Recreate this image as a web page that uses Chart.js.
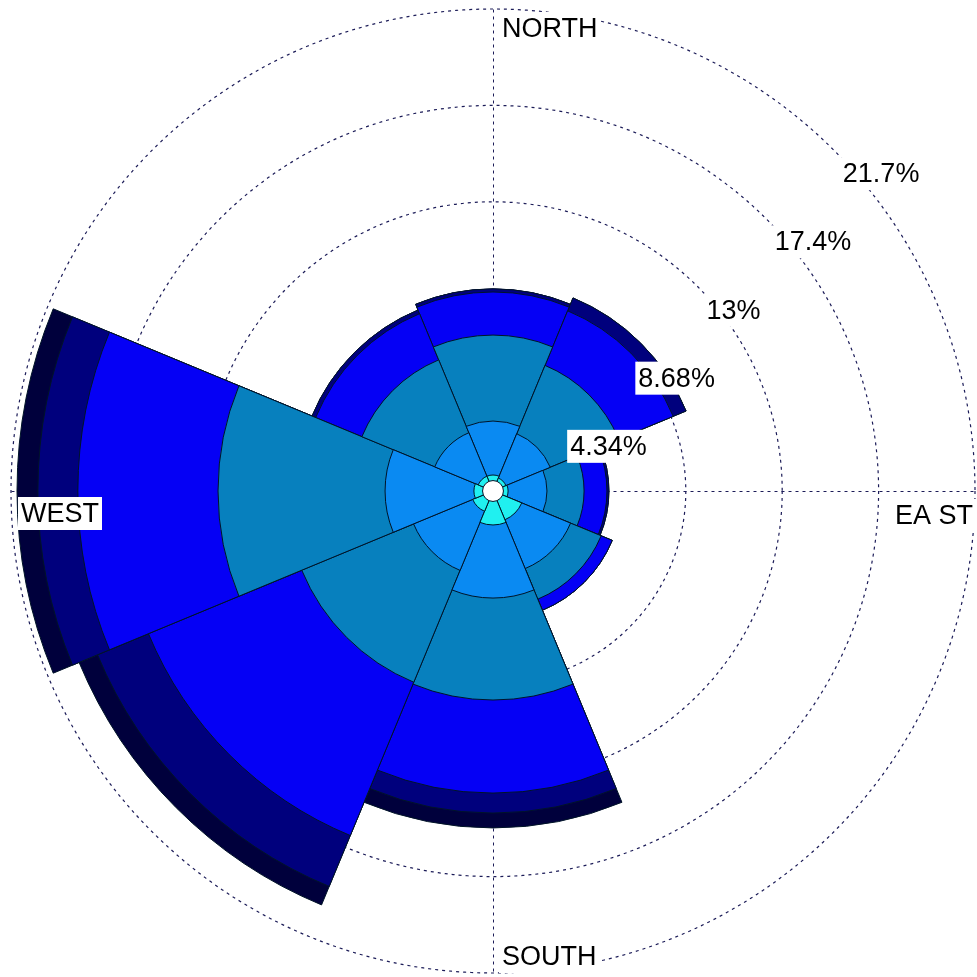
<!DOCTYPE html>
<html>
<head>
<meta charset="utf-8">
<title>Wind rose</title>
<script src="https://cdn.jsdelivr.net/npm/chart.js@4.4.0/dist/chart.umd.min.js"></script>
<style>
  body { margin: 0; background: #fff; }
  #wrap { width: 977px; height: 977px; }
</style>
</head>
<body>
<div id="wrap"><canvas id="windRose"></canvas></div>
<script>
// sectors, clockwise from north
const directions = ["N", "NE", "E", "SE", "S", "SW", "W", "NW"];

// frequency (%) of each speed class per sector, lightest class first
const speed1 = [0.72, 0.63, 0.68, 1.40, 1.53, 0.99, 0.86, 0.72];
const speed2 = [2.43, 2.16, 1.75, 2.38, 3.29, 2.88, 4.00, 2.12];
const speed3 = [3.87, 3.33, 1.67, 1.49, 4.59, 5.45, 7.52, 3.55];
const speed4 = [1.94, 2.66, 1.03, 0.54, 4.19, 7.47, 6.31, 2.25];
const speed5 = [0.14, 0.63, 0.09, 0.00, 0.90, 2.48, 1.80, 0.18];
const speed6 = [0.00, 0.00, 0.00, 0.00, 0.67, 0.90, 0.94, 0.00];
const calm = 0.47;

const tickValues = [4.34, 8.68, 13.02, 17.36, 21.7];
const tickLabels = ["4.34%", "8.68%", "13%", "17.4%", "21.7%"];
const compassLabels = ["NORTH", "EA ST", "SOUTH", "WEST"];

const classColors = ["#20F0F0", "#0A8AF2", "#0780BE", "#0500F5", "#00007D", "#00003C"];
const gridColor = "#1c1c58";
const labelFont = '27px "Liberation Sans", Arial, sans-serif';

// stack the classes: every dataset is drawn from the centre out to its cumulative value
const classes = [speed1, speed2, speed3, speed4, speed5, speed6];
const running = directions.map(() => 0);
const datasets = classes.map((vals, k) => {
  vals.forEach((v, i) => { running[i] += v; });
  return {
    label: "class " + (k + 1),
    data: running.map(v => +v.toFixed(2)),
    backgroundColor: classColors[k],
    borderColor: "#001428",
    borderWidth: 1
  };
});

function boxedText(ctx, text, x, y) {
  const w = ctx.measureText(text).width;
  ctx.fillStyle = "#fff";
  ctx.fillRect(x - 3, y - 25, w + 6, 33);
  ctx.fillStyle = "#000";
  ctx.fillText(text, x, y);
}

const roseDecor = {
  id: "roseDecor",
  beforeDatasetsDraw(chart) {
    const s = chart.scales.r, ctx = chart.ctx;
    const R = s.drawingArea;
    const xc = s.xCenter + 0.5, yc = s.yCenter + 0.5;
    ctx.save();
    ctx.strokeStyle = gridColor;
    ctx.lineWidth = 1;
    ctx.setLineDash([3, 4]);
    ctx.beginPath();
    ctx.moveTo(xc, yc - R); ctx.lineTo(xc, yc + R);
    ctx.moveTo(xc - R, yc); ctx.lineTo(xc + R, yc);
    ctx.stroke();
    ctx.restore();
  },
  afterDatasetsDraw(chart) {
    const s = chart.scales.r, ctx = chart.ctx;
    const R = s.drawingArea;
    const xc = s.xCenter, yc = s.yCenter;
    ctx.save();

    // calm circle
    ctx.beginPath();
    ctx.arc(xc, yc, s.getDistanceFromCenterForValue(calm), 0, Math.PI * 2);
    ctx.fillStyle = "#fff";
    ctx.fill();
    ctx.strokeStyle = "#001428";
    ctx.lineWidth = 1;
    ctx.stroke();

    ctx.font = labelFont;
    ctx.textBaseline = "alphabetic";
    ctx.textAlign = "left";

    // ring labels along the 45 degree diagonal
    tickValues.forEach((v, i) => {
      const d = s.getDistanceFromCenterForValue(v) * Math.SQRT1_2;
      boxedText(ctx, tickLabels[i], xc + d + 9, yc - d + 32);
    });

    // compass labels
    boxedText(ctx, compassLabels[0], xc + 9, yc - R + 28);
    boxedText(ctx, compassLabels[1], xc + R - 80, yc + 33);
    boxedText(ctx, compassLabels[2], xc + 9, yc + R - 8);
    boxedText(ctx, compassLabels[3], xc - R + 10, yc + 31);
    ctx.restore();
  }
};

new Chart(document.getElementById("windRose"), {
  type: "polarArea",
  data: { labels: directions, datasets: datasets },
  options: {
    responsive: true,
    maintainAspectRatio: false,
    animation: false,
    layout: { padding: { left: 11, right: 2, top: 9, bottom: 4 } },
    plugins: { legend: { display: false }, tooltip: { enabled: false } },
    scales: {
      r: {
        min: 0,
        max: 21.7,
        startAngle: -22.5,
        afterBuildTicks: scale => {
          scale.ticks = [0].concat(tickValues).map(v => ({ value: v }));
        },
        ticks: { display: false },
        grid: { circular: true, color: gridColor, lineWidth: 1.2, borderDash: [3, 4] },
        border: { dash: [3, 4] },
        angleLines: { display: false },
        pointLabels: { display: false }
      }
    }
  },
  plugins: [roseDecor]
});
</script>
</body>
</html>
